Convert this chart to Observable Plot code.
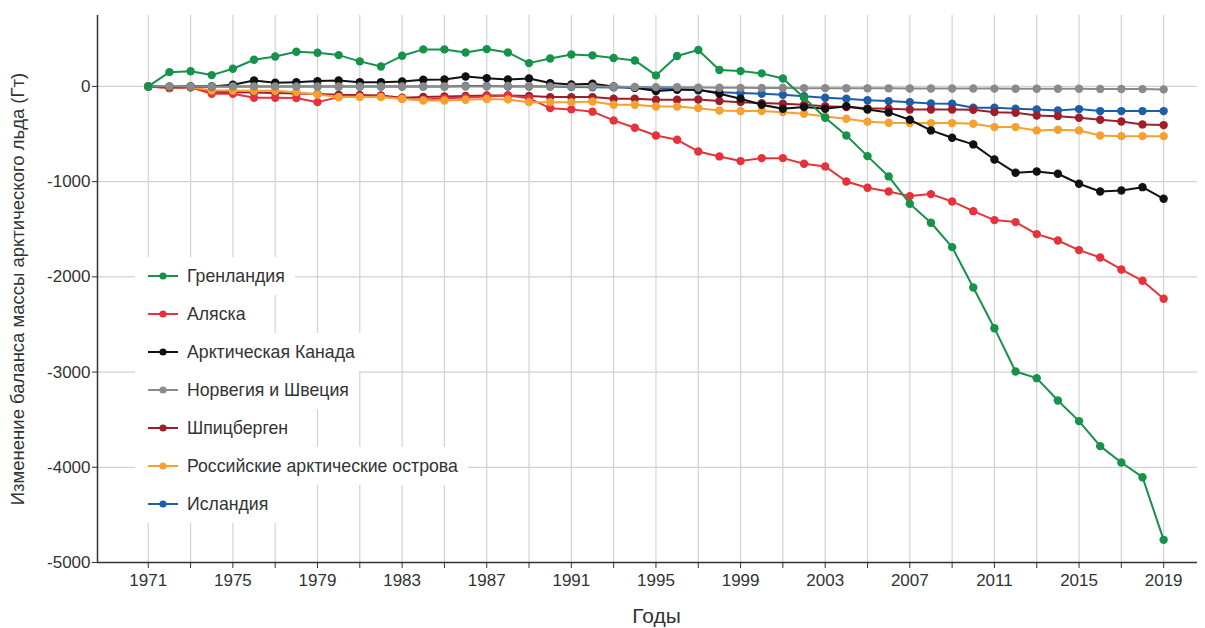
<!DOCTYPE html>
<html>
<head>
<meta charset="utf-8">
<script src="https://cdn.jsdelivr.net/npm/d3@7"></script>
<script src="https://cdn.jsdelivr.net/npm/@observablehq/plot@0.6"></script>
<style>
  html, body { margin: 0; padding: 0; background: #fff; }
  #wrap { position: relative; width: 1205px; height: 628px; overflow: hidden; }
  #legend { position: absolute; left: 135px; top: 257px; display: flex; flex-direction: column; align-items: flex-start; font-family: "Liberation Sans", Arial, sans-serif; font-size: 17.7px; color: #333; }
  .row { height: 38px; background: #fff; display: flex; align-items: center; padding-right: 10px; }
  .row svg { display: block; margin-right: 6px; }
</style>
</head>
<body>
<div id="wrap"><div id="legend"></div></div>
<script>
const years = d3.range(1971, 2020);

const seriesNames = ["Гренландия", "Аляска", "Арктическая Канада", "Норвегия и Швеция", "Шпицберген", "Российские арктические острова", "Исландия"];
const seriesColors = ["#17924a", "#e5323b", "#111111", "#8a8a8a", "#9e1f2c", "#f5a030", "#1d5eab"];

const greenland = [0,150,160,119,186,280,315,364,354,329,
  263,210,322,389,389,357,392,357,245,294,
  336,326,298,273,116,319,382,172,161,137,
  84,-120,-329,-515,-732,-945,-1232,-1432,-1688,-2111,
  -2539,-2994,-3064,-3298,-3515,-3778,-3950,-4104,-4762];
const alaska = [0,-20,-10,-77,-77,-119,-119,-122,-165,-112,
  -105,-105,-130,-140,-125,-115,-105,-95,-125,-228,
  -241,-265,-357,-434,-515,-560,-683,-735,-784,-753,
  -753,-812,-840,-998,-1064,-1103,-1152,-1131,-1208,-1310,
  -1404,-1425,-1551,-1618,-1719,-1796,-1922,-2041,-2230];
const canada = [0,-5,0,0,17,63,38,45,56,63,
  45,45,52,70,73,105,87,73,84,35,
  21,28,0,-14,-49,-35,-32,-77,-130,-193,
  -235,-217,-235,-207,-242,-273,-350,-462,-539,-609,
  -767,-907,-893,-917,-1022,-1103,-1092,-1058,-1180];
const norwaySweden = [0,0,0,0,0,0,0,0,0,0,
  0,0,0,0,0,0,0,5,3,0,
  0,0,-3,-5,-7,-8,-12,-14,-15,-16,
  -17,-18,-18,-19,-20,-20,-21,-21,-22,-22,
  -23,-24,-24,-25,-25,-26,-27,-28,-31];
const svalbard = [0,-12,-8,-55,-60,-65,-70,-75,-80,-88,
  -90,-95,-119,-110,-105,-100,-95,-95,-101,-112,
  -112,-112,-130,-130,-140,-140,-137,-154,-165,-175,
  -182,-193,-207,-217,-230,-235,-242,-242,-242,-245,
  -270,-277,-305,-312,-329,-350,-368,-399,-406];
const russia = [0,-10,-5,-42,-42,-45,-45,-60,-85,-112,
  -112,-112,-130,-147,-147,-140,-132,-136,-165,-165,
  -165,-158,-193,-193,-210,-212,-228,-252,-259,-259,
  -270,-287,-315,-340,-370,-382,-385,-385,-385,-392,
  -427,-427,-462,-455,-462,-515,-522,-522,-522];
const iceland = [0,0,0,0,0,0,0,0,0,0,
  0,0,0,0,0,5,5,0,0,0,
  -5,-8,-10,-15,-23,-28,-42,-60,-70,-77,
  -88,-102,-119,-130,-145,-154,-165,-179,-182,-224,
  -224,-235,-242,-252,-238,-259,-259,-259,-259];

const seriesValues = [greenland, alaska, canada, norwaySweden, svalbard, russia, iceland];
const drawOrder = ["Исландия", "Шпицберген", "Аляска", "Российские арктические острова", "Арктическая Канада", "Норвегия и Швеция", "Гренландия"];

const xTicks = d3.range(1971, 2020, 2);
const yTicks = d3.range(-5000, 1, 1000);
const xLabel = "Годы";
const yLabel = "Изменение баланса массы арктического льда (Гт)";

const data = seriesNames.flatMap((name, i) => years.map((yr, j) => ({year: yr, value: seriesValues[i][j], series: name})));
const colorOf = Object.fromEntries(seriesNames.map((n, i) => [n, seriesColors[i]]));

const seriesMarks = drawOrder.flatMap(name => {
  const d = data.filter(e => e.series === name);
  return [
    Plot.line(d, {x: "year", y: "value", stroke: colorOf[name], strokeWidth: 2}),
    Plot.dot(d, {x: "year", y: "value", fill: colorOf[name], r: 4.2})
  ];
});

const chart = Plot.plot({
  width: 1205,
  height: 628,
  marginTop: 15,
  marginBottom: 66,
  marginLeft: 97,
  marginRight: 8,
  style: {fontFamily: "'Liberation Sans', Arial, sans-serif", fontSize: "17px", color: "#333", background: "transparent"},
  x: {domain: [1968.6, 2020.6]},
  y: {domain: [-5000, 745]},
  marks: [
    Plot.gridX(xTicks, {stroke: "#d2d2d2", strokeOpacity: 1, strokeWidth: 1.2}),
    Plot.gridY(yTicks, {stroke: "#d2d2d2", strokeOpacity: 1, strokeWidth: 1.2}),
    ...seriesMarks,
    Plot.ruleX([1968.6], {stroke: "#333", strokeWidth: 1.5}),
    Plot.ruleY([-5000], {stroke: "#333", strokeWidth: 1.5}),
    Plot.axisX(xTicks, {tickSize: 6, tickPadding: 5, stroke: "#333", label: null, fontSize: 17,
      tickFormat: d => ((d - 1971) % 4 === 0 ? String(d) : "")}),
    Plot.axisY(yTicks, {tickSize: 5, tickPadding: 2, stroke: "#333", label: null, fontSize: 17,
      tickFormat: d => String(d)}),
    Plot.text([xLabel], {frameAnchor: "bottom", dx: 9, dy: 60, fontSize: 21, fill: "#333", text: d => d}),
    Plot.text([yLabel], {frameAnchor: "left", textAnchor: "middle", dx: -79, rotate: -90, fontSize: 18.5, fill: "#333", text: d => d})
  ]
});
document.getElementById("wrap").prepend(chart);

const legend = document.getElementById("legend");
seriesNames.forEach((name, i) => {
  const row = document.createElement("div");
  row.className = "row";
  row.innerHTML = `<svg width="46" height="12"><line x1="13" x2="43" y1="6" y2="6" stroke="${seriesColors[i]}" stroke-width="2"/><circle cx="28" cy="6" r="3.6" fill="${seriesColors[i]}"/></svg><span>${name}</span>`;
  legend.appendChild(row);
});
</script>
</body>
</html>
